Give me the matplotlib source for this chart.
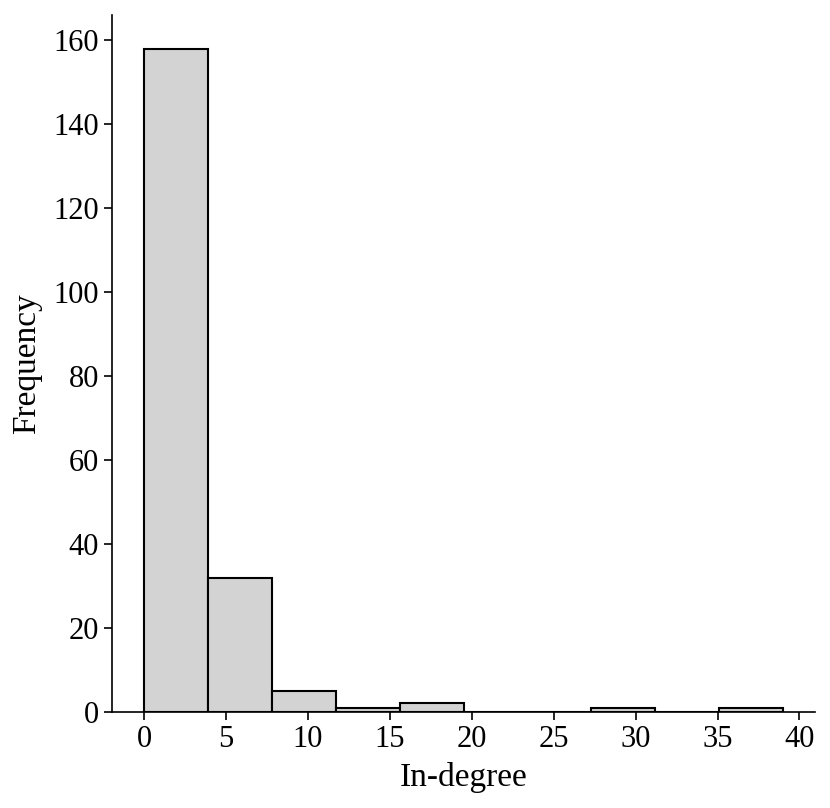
import numpy as np
import matplotlib
matplotlib.use('Agg')
import matplotlib.pyplot as plt

# counts per bin (10 bins from 0 to 39)
counts = [158, 32, 5, 1, 2, 0, 0, 1, 0, 1]
bin_lo = 0
bin_hi = 39
xticks = [0, 5, 10, 15, 20, 25, 30, 35, 40]
yticks = [0, 20, 40, 60, 80, 100, 120, 140, 160]

plt.rcParams['font.family'] = ['Liberation Serif', 'DejaVu Serif']

fig = plt.figure(figsize=(8.3, 8.08), dpi=100)
ax = fig.add_axes([0.135, 0.119, 0.847, 0.862])

edges = np.linspace(bin_lo, bin_hi, len(counts) + 1)
ax.hist(edges[:-1], bins=edges, weights=counts, color='lightgray',
        edgecolor='black', linewidth=1.5)

ax.set_xticks(xticks)
ax.set_yticks(yticks)
ax.tick_params(labelsize=22, width=1.2, length=6)
ax.set_xlabel('In-degree', fontsize=24, labelpad=6)
ax.set_ylabel('Frequency', fontsize=24, labelpad=8)
for s in ['top', 'right']:
    ax.spines[s].set_visible(False)
for s in ['left', 'bottom']:
    ax.spines[s].set_linewidth(1.2)

fig.savefig('out.png', dpi=100)
